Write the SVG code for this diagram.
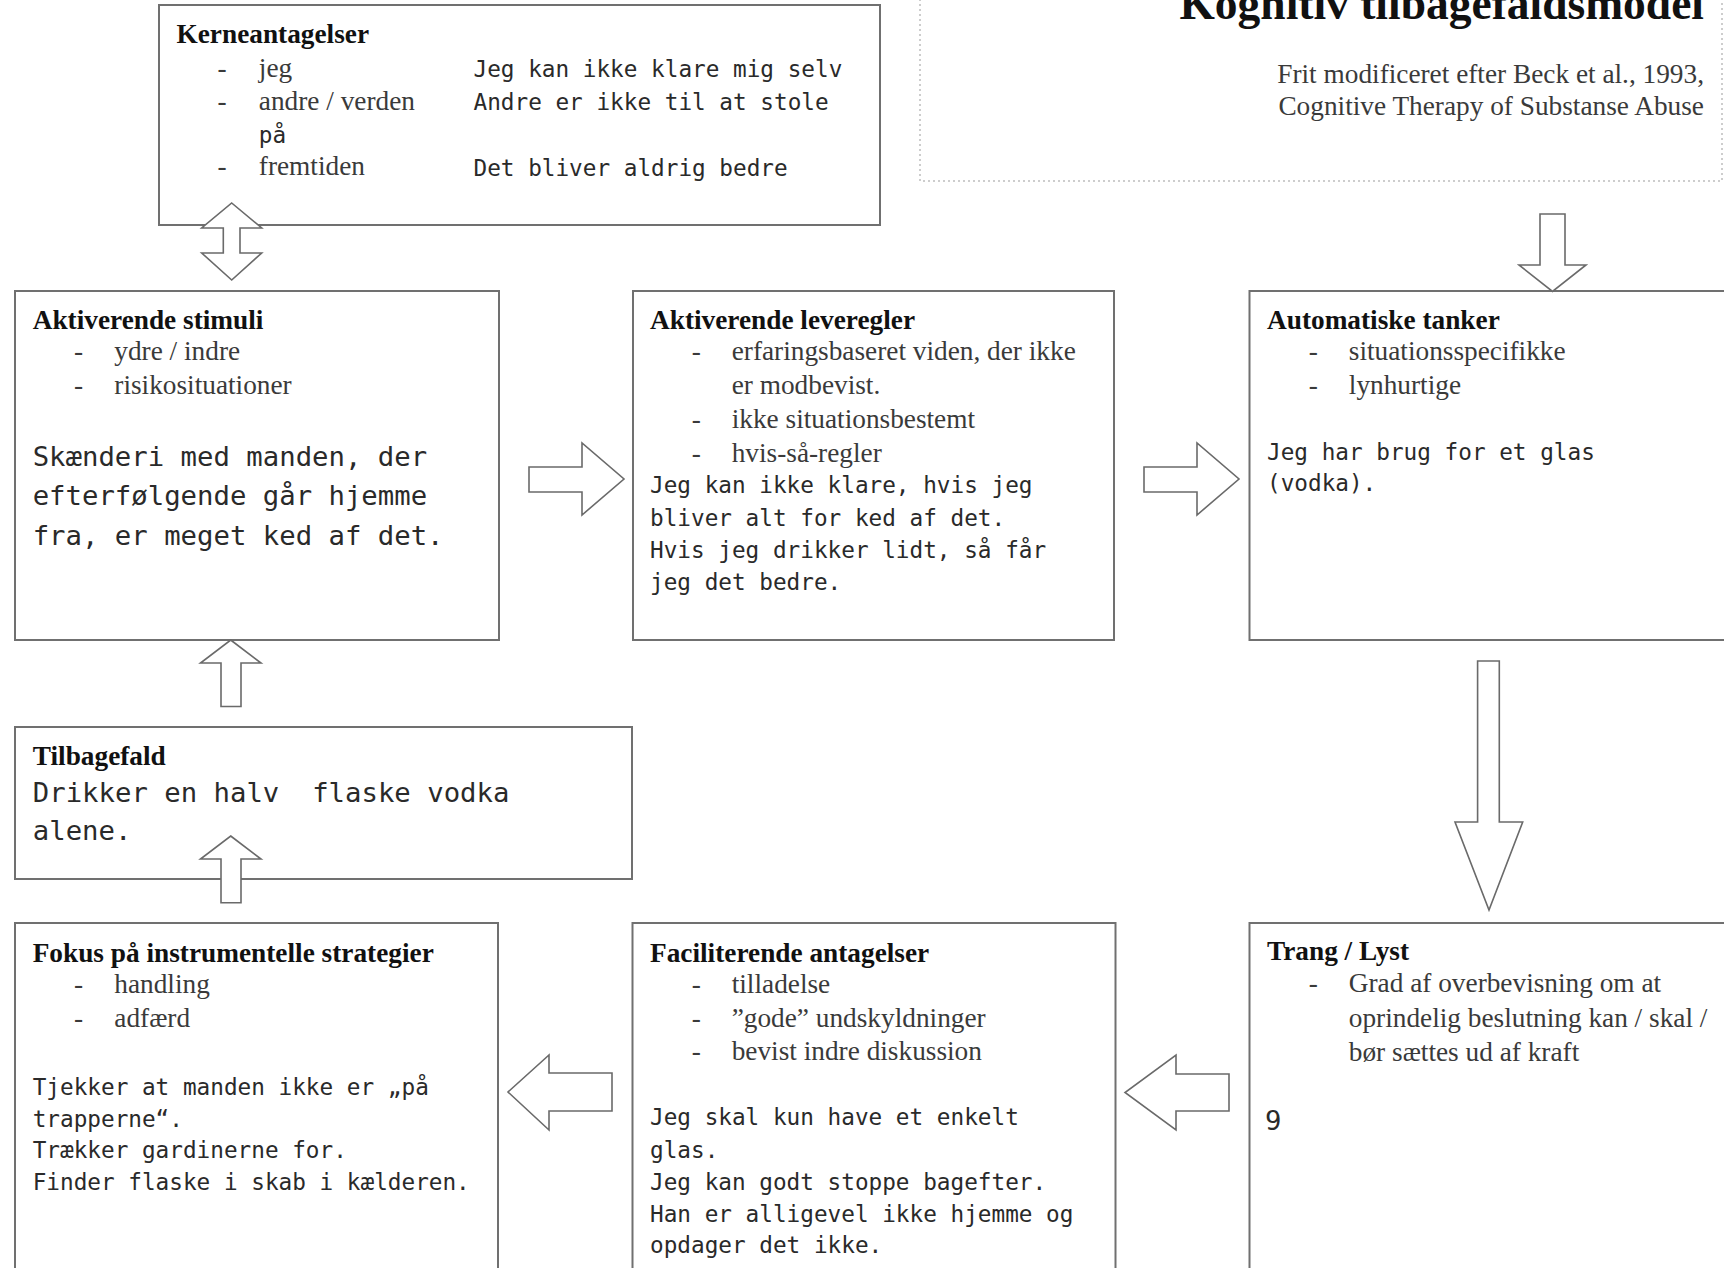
<svg xmlns="http://www.w3.org/2000/svg" width="1724" height="1268" viewBox="0 0 1724 1268">
<style>
.box{fill:#fff;stroke:#707070;stroke-width:2}
.arr{fill:#fff;stroke:#6a6a6a;stroke-width:1.6;stroke-linejoin:miter}
.h{font-family:"Liberation Serif","Times New Roman",serif;font-weight:bold;font-size:27.3px;fill:#111}
.s{font-family:"Liberation Serif","Times New Roman",serif;font-size:27.3px;fill:#3a3a3a}
.m{font-family:"DejaVu Sans Mono","Liberation Mono",monospace;font-size:22.7px;fill:#2a2a2a}
.M{font-family:"DejaVu Sans Mono","Liberation Mono",monospace;font-size:27.3px;fill:#2a2a2a}
</style>
<rect width="1724" height="1268" fill="#fff"/>

<g id="title">
<rect x="920" y="-10" width="802" height="191" fill="none" stroke="#bdbdbd" stroke-width="1.5" stroke-dasharray="2 3"/>
<text x="1704" y="19" text-anchor="end" font-family="Liberation Serif,Times New Roman,serif" font-weight="bold" font-size="45.5" fill="#111">Kognitiv tilbagefaldsmodel</text>
<text x="1704" y="83" text-anchor="end" class="s">Frit modificeret efter Beck et al., 1993,</text>
<text x="1704" y="115" text-anchor="end" class="s">Cognitive Therapy of Substanse Abuse</text>
</g>

<g id="kerneantagelser">
<rect class="box" x="159" y="5" width="721" height="220"/>
<text class="h" x="176.5" y="42.5">Kerneantagelser</text>
<text class="s" x="217.5" y="76.5">-</text>
<text class="s" x="258.8" y="76.5">jeg</text>
<text class="s" x="217.5" y="110">-</text>
<text class="s" x="258.8" y="110">andre / verden</text>
<text class="m" x="258.8" y="142.5">på</text>
<text class="s" x="217.5" y="175">-</text>
<text class="s" x="258.8" y="175">fremtiden</text>
<text class="m" x="473.5" y="76.5">Jeg kan ikke klare mig selv</text>
<text class="m" x="473.5" y="110">Andre er ikke til at stole</text>
<text class="m" x="473.5" y="175.5">Det bliver aldrig bedre</text>
</g>

<g id="aktiverende-stimuli">
<rect class="box" x="15" y="291" width="484" height="349"/>
<text class="h" x="32.7" y="329.3">Aktiverende stimuli</text>
<text class="s" x="74" y="360">-</text>
<text class="s" x="114.3" y="360">ydre / indre</text>
<text class="s" x="74" y="394">-</text>
<text class="s" x="114.3" y="394">risikosituationer</text>
<text class="M" x="32.7" y="465.5">Skænderi med manden, der</text>
<text class="M" x="32.7" y="505">efterfølgende går hjemme</text>
<text class="M" x="32.7" y="544.5">fra, er meget ked af det.</text>
</g>

<g id="aktiverende-leveregler">
<rect class="box" x="633" y="291" width="481" height="349"/>
<text class="h" x="650" y="329.3">Aktiverende leveregler</text>
<text class="s" x="691.7" y="360">-</text>
<text class="s" x="731.7" y="360">erfaringsbaseret viden, der ikke</text>
<text class="s" x="731.7" y="393.5">er modbevist.</text>
<text class="s" x="691.7" y="427.5">-</text>
<text class="s" x="731.7" y="427.5">ikke situationsbestemt</text>
<text class="s" x="691.7" y="461.5">-</text>
<text class="s" x="731.7" y="461.5">hvis-så-regler</text>
<text class="m" x="650" y="493.3">Jeg kan ikke klare, hvis jeg</text>
<text class="m" x="650" y="526">bliver alt for ked af det.</text>
<text class="m" x="650" y="558.3">Hvis jeg drikker lidt, så får</text>
<text class="m" x="650" y="590">jeg det bedre.</text>
</g>

<g id="automatiske-tanker">
<rect class="box" x="1249.5" y="291" width="490" height="349"/>
<text class="h" x="1267" y="329.3">Automatiske tanker</text>
<text class="s" x="1308.7" y="360">-</text>
<text class="s" x="1348.8" y="360">situationsspecifikke</text>
<text class="s" x="1308.7" y="394">-</text>
<text class="s" x="1348.8" y="394">lynhurtige</text>
<text class="m" x="1267" y="459.5">Jeg har brug for et glas</text>
<text class="m" x="1267" y="491">(vodka).</text>
</g>

<g id="tilbagefald">
<rect class="box" x="15" y="727" width="617" height="152"/>
<text class="h" x="32.8" y="765">Tilbagefald</text>
<text class="M" x="32.8" y="801.5" xml:space="preserve">Drikker en halv  flaske vodka</text>
<text class="M" x="32.8" y="840">alene.</text>
</g>

<g id="fokus">
<rect class="box" x="15" y="923" width="483" height="360"/>
<text class="h" x="32.7" y="961.7">Fokus på instrumentelle strategier</text>
<text class="s" x="74" y="993.3">-</text>
<text class="s" x="114.3" y="993.3">handling</text>
<text class="s" x="74" y="1026.7">-</text>
<text class="s" x="114.3" y="1026.7">adfærd</text>
<text class="m" x="32.7" y="1095">Tjekker at manden ikke er „på</text>
<text class="m" x="32.7" y="1126.7">trapperne“.</text>
<text class="m" x="32.7" y="1158.3">Trækker gardinerne for.</text>
<text class="m" x="32.7" y="1190">Finder flaske i skab i kælderen.</text>
</g>

<g id="faciliterende">
<rect class="box" x="632.5" y="923" width="483" height="360"/>
<text class="h" x="650" y="961.7">Faciliterende antagelser</text>
<text class="s" x="691.7" y="992.7">-</text>
<text class="s" x="731.7" y="992.7">tilladelse</text>
<text class="s" x="691.7" y="1026.7">-</text>
<text class="s" x="731.7" y="1026.7">”gode” undskyldninger</text>
<text class="s" x="691.7" y="1060">-</text>
<text class="s" x="731.7" y="1060">bevist indre diskussion</text>
<text class="m" x="650" y="1125">Jeg skal kun have et enkelt</text>
<text class="m" x="650" y="1158.3">glas.</text>
<text class="m" x="650" y="1190">Jeg kan godt stoppe bagefter.</text>
<text class="m" x="650" y="1221.7">Han er alligevel ikke hjemme og</text>
<text class="m" x="650" y="1253.3">opdager det ikke.</text>
</g>

<g id="trang-lyst">
<rect class="box" x="1249.5" y="923" width="490" height="360"/>
<text class="h" x="1267" y="960.4">Trang / Lyst</text>
<text class="s" x="1308.7" y="992.4">-</text>
<text class="s" x="1348.8" y="992.4">Grad af overbevisning om at</text>
<text class="s" x="1348.8" y="1026.5">oprindelig beslutning kan / skal /</text>
<text class="s" x="1348.8" y="1060.5">bør sættes ud af kraft</text>
<text class="M" x="1265" y="1130">9</text>
</g>

<g id="connectors">
<polygon class="arr" points="231.7,203 261.7,228 240,228 240,253 261.7,253 231.7,280 201.7,253 223.3,253 223.3,228 201.7,228"/>
<polygon class="arr" points="1540,214 1565,214 1565,265 1586,265 1552.5,291.5 1519,265 1540,265"/>
<polygon class="arr" points="529,467 582,467 582,443 624,479 582,515 582,492 529,492"/>
<polygon class="arr" points="1144,467 1197,467 1197,443 1239,479 1197,515 1197,492 1144,492"/>
<polygon class="arr" points="1477.6,661 1499.3,661 1499.3,822 1522.7,822 1489,910 1455,822 1477.6,822"/>
<polygon class="arr" points="1229,1074 1176,1074 1176,1055 1125,1092.5 1176,1130 1176,1111 1229,1111"/>
<polygon class="arr" points="612,1073 549,1073 549,1055 508,1092 549,1130 549,1111 612,1111"/>
<polygon class="arr" points="230.7,640 261,663 241,663 241,706.5 221,706.5 221,663 200.5,663"/>
<polygon class="arr" points="230.7,836 261,859 241,859 241,902.7 221,902.7 221,859 200.5,859"/>
</g>
</svg>
